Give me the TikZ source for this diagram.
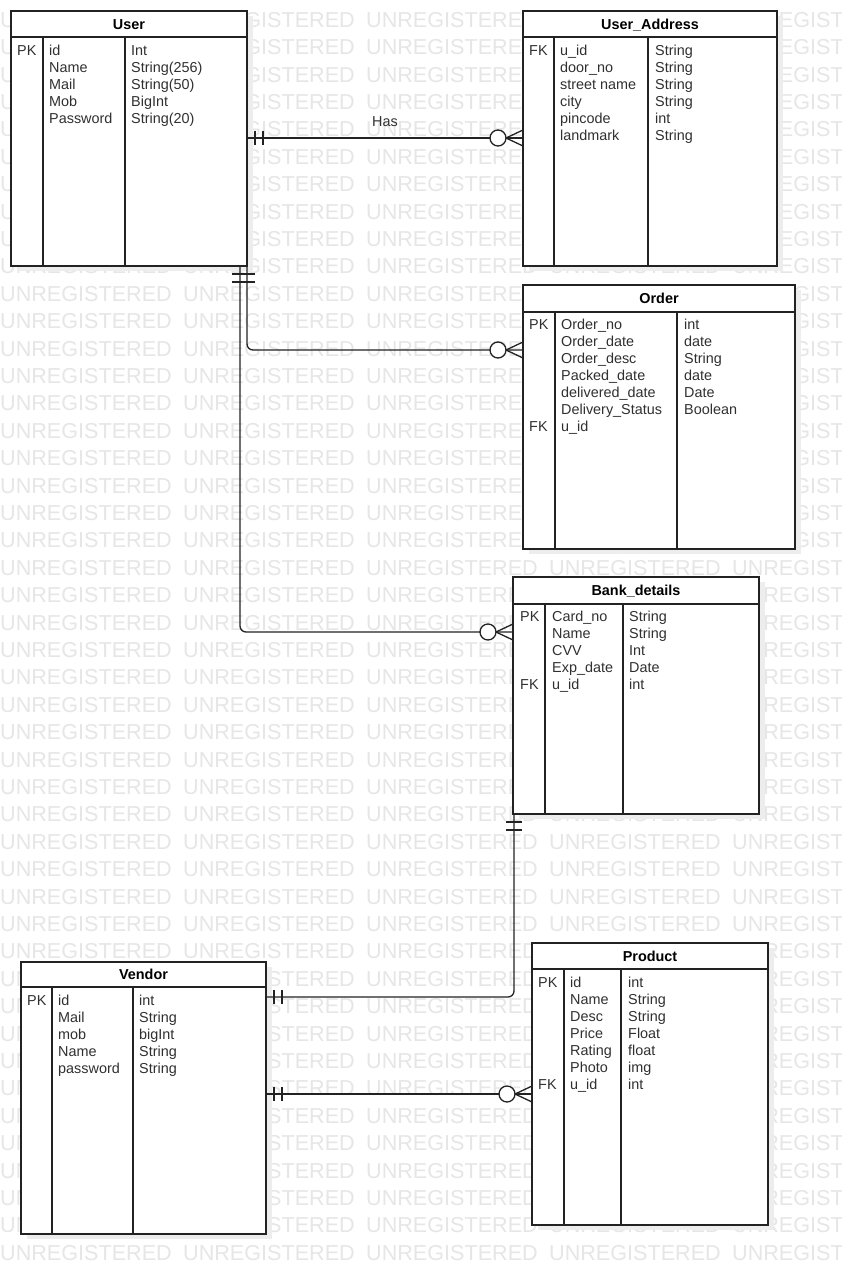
\documentclass[tikz,border=0pt]{standalone}
\usepackage{fontspec}
\setmainfont{Liberation Sans}
\usetikzlibrary{calc}

\definecolor{inkc}{HTML}{222222}
\definecolor{txtc}{HTML}{303030}
\definecolor{wmc}{HTML}{E6E6E6}
\definecolor{shadc}{HTML}{EDEDED}

\tikzset{
  tablebox/.style={draw=inkc, line width=1.3pt, fill=white, inner sep=0pt,
                   outer sep=0pt, anchor=north west},
  tline/.style={draw=inkc, line width=1.3pt},
  field/.style={anchor=base west, inner sep=0pt, text=txtc,
                font=\fontsize{14.4}{17}\selectfont},
  ttl/.style={anchor=base, inner sep=0pt, text=black,
              font=\fontsize{14.4}{17}\selectfont\bfseries},
  rel/.style={draw=inkc, line width=1.3pt},
  wm/.style={anchor=base west, inner sep=0pt, text=wmc,
             font=\fontsize{21.6}{24}\selectfont},
}

% table: name, x1, y1, x2, y2, header line y, divider 1 x, divider 2 x, title
\newcommand\ertable[9]{%
  \fill[shadc] ({#2+6},{#3+5}) rectangle ({#4+6},{#5+5});
  \node[tablebox, minimum width={(#4-#2)*1pt}, minimum height={(#5-#3)*1pt}] (#1) at (#2,#3) {};
  \draw[tline] (#2,#6) -- (#4,#6);
  \draw[tline] (#7,#6) -- (#7,#5);
  \draw[tline] (#8,#6) -- (#8,#5);
  \node[ttl] (#1-title) at ({(#2+#4)/2},{(#3+#6)/2+5}) {#9};
}

% fields: table name, key x, name x, type x, first baseline y, rows key/name/type
\newcommand\erfields[6]{%
  \foreach \ekey/\ename/\etype [count=\i] in {#6}{%
    \node[field] (#1-key\i)  at (#2,{#5+17.15*(\i-1)}) {\ekey};
    \node[field] (#1-name\i) at (#3,{#5+17.15*(\i-1)}) {\ename};
    \node[field] (#1-type\i) at (#4,{#5+17.15*(\i-1)}) {\etype};
  }%
}

% mandatory-one marks beside a point, along +x (1) or -x (-1)
\newcommand\barsH[2]{%
  \draw[rel] ($(#1)+(#2*8,-7)$) -- ++(0,14);
  \draw[rel] ($(#1)+(#2*16,-7)$) -- ++(0,14);
}
% mandatory-one marks below a point
\newcommand\barsV[1]{%
  \draw[rel] ($(#1)+(-8,8)$) -- ++(16,0);
  \draw[rel] ($(#1)+(-8,16)$) -- ++(16,0);
}
% zero-or-many end at a west edge
\newcommand\crowW[1]{%
  \draw[rel] ($(#1)+(-17,0)$) -- ($(#1)+(0,-8)$);
  \draw[rel] ($(#1)+(-17,0)$) -- ($(#1)+(0,8)$);
  \draw[rel, fill=white] ($(#1)+(-25,0)$) circle[radius=8pt];
}

\begin{document}
\begin{tikzpicture}[x=1pt, y=-1pt]
  \useasboundingbox (0,0) rectangle (841,1280);
  \fill[white] (0,0) rectangle (841,1280);

  % watermark
  \begin{scope}
    \clip (0,0) rectangle (841,1280);
    \foreach \r in {0,...,45}{%
      \foreach \c in {0,...,4}{%
        \node[wm] (wm-\r-\c) at ({183*\c},{27.3+27.4*\r}) {UNREGISTERED};
      }%
    }
  \end{scope}

  % tables
  \ertable{user}{11}{11}{247}{266}{37}{43}{125}{User}
  \erfields{user}{17}{49}{131}{55}{PK/id/Int,/Name/String(256),/Mail/String(50),/Mob/BigInt,/Password/String(20)}

  \ertable{uaddr}{523}{11}{777}{266}{37}{554}{648}{User\_Address}
  \erfields{uaddr}{529}{560}{655}{55}{FK/u\_id/String,/door\_no/String,/street name/String,/city/String,/pincode/int,/landmark/String}

  \ertable{order}{523}{285}{795}{549}{312}{555}{677}{Order}
  \erfields{order}{529}{561}{684}{329}{PK/Order\_no/int,/Order\_date/date,/Order\_desc/String,/Packed\_date/date,/delivered\_date/Date,/Delivery\_Status/Boolean,FK/u\_id/}

  \ertable{bank}{513}{577}{759}{814}{604}{545}{623}{Bank\_details}
  \erfields{bank}{520}{552}{629}{621}{PK/Card\_no/String,/Name/String,/CVV/Int,/Exp\_date/Date,FK/u\_id/int}

  \ertable{vendor}{21}{962}{266}{1234}{987}{52}{133}{Vendor}
  \erfields{vendor}{27}{58}{139}{1005}{PK/id/int,/Mail/String,/mob/bigInt,/Name/String,/password/String}

  \ertable{product}{532}{943}{768}{1225}{969}{564}{621}{Product}
  \erfields{product}{538}{570}{628}{987}{PK/id/int,/Name/String,/Desc/String,/Price/Float,/Rating/float,/Photo/img,FK/u\_id/int}

  % connector routing levels
  \coordinate (hasY) at (0,138);
  \coordinate (ordX) at (247,0);  \coordinate (ordY) at (0,350);
  \coordinate (bankX) at (240,0); \coordinate (bankY) at (0,632);
  \coordinate (vbX) at (514,0);   \coordinate (vbY) at (0,997);
  \coordinate (vpY) at (0,1094);

  % connector end points
  \coordinate (has-s) at (user.east |- hasY);   \coordinate (has-e) at (uaddr.west |- hasY);
  \coordinate (uo-s) at (user.south -| ordX);   \coordinate (uo-e) at (order.west |- ordY);
  \coordinate (ub-s) at (user.south -| bankX);  \coordinate (ub-e) at (bank.west |- bankY);
  \coordinate (bv-s) at (bank.south -| vbX);    \coordinate (bv-e) at (vendor.east |- vbY);
  \coordinate (vp-s) at (vendor.east |- vpY);   \coordinate (vp-e) at (product.west |- vpY);

  % relationships
  \draw[rel] (has-s) -- (has-e);
  \node[field, anchor=base] (has-label) at (385,126) {Has};
  \barsH{has-s}{1}
  \crowW{has-e}

  \draw[rel, rounded corners=6pt] (uo-s) |- (uo-e);
  \barsV{uo-s}
  \crowW{uo-e}

  \draw[rel, rounded corners=6pt] (ub-s) |- (ub-e);
  \barsV{ub-s}
  \crowW{ub-e}

  \draw[rel, rounded corners=6pt] (bv-s) |- (bv-e);
  \barsV{bv-s}
  \barsH{bv-e}{1}

  \draw[rel] (vp-s) -- (vp-e);
  \barsH{vp-s}{1}
  \crowW{vp-e}
\end{tikzpicture}
\end{document}
